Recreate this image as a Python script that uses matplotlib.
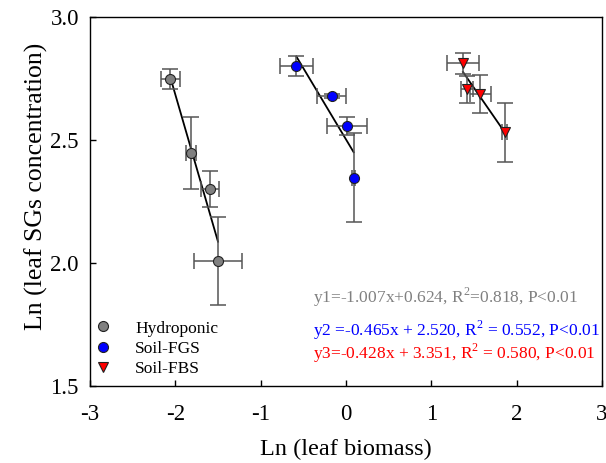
import numpy as np
import matplotlib
matplotlib.use("Agg")
import matplotlib.pyplot as plt

plt.rcParams['font.family'] = ['Liberation Serif', 'DejaVu Serif']
plt.rcParams['mathtext.fontset'] = 'custom'
plt.rcParams['mathtext.rm'] = 'Liberation Serif'

# ---- data ----
groups = ["Hydroponic", "Soil-FGS", "Soil-FBS"]

hydro_x = [-2.059, -1.816, -1.594, -1.500]
hydro_y = [2.748, 2.447, 2.302, 2.009]
hydro_xerr = [0.11, 0.06, 0.11, 0.28]
hydro_yerr = [0.040, 0.148, 0.073, 0.180]

fgs_x = [-0.582, -0.168, 0.012, 0.090]
fgs_y = [2.802, 2.679, 2.557, 2.347]
fgs_xerr = [0.19, 0.17, 0.23, 0.02]
fgs_yerr = [0.041, 0.010, 0.037, 0.182]

fbs_x = [1.371, 1.418, 1.574, 1.860]
fbs_y = [2.812, 2.706, 2.686, 2.531]
fbs_xerr = [0.19, 0.074, 0.12, 0.03]
fbs_yerr = [0.042, 0.056, 0.077, 0.120]

equations = ["y1=-1.007x+0.624, R$^2$=0.818, P<0.01",
             "y2 =-0.465x + 2.520, R$^2$ = 0.552, P<0.01",
             "y3=-0.428x + 3.351, R$^2$ = 0.580, P<0.01"]
eq_colors = ["#808080", "#0000ff", "#ff0000"]
eq_ypos = [0.241, 0.152, 0.089]

xticks = [-3, -2, -1, 0, 1, 2, 3]
yticks = [1.5, 2.0, 2.5, 3.0]

# ---- plot ----
fig = plt.figure(figsize=(6.06, 4.63), dpi=100)
ax = fig.add_axes([0.1485, 0.1663, 0.8449, 0.797])

series = [
    (hydro_x, hydro_y, hydro_xerr, hydro_yerr, 'o', '#808080'),
    (fgs_x, fgs_y, fgs_xerr, fgs_yerr, 'o', '#0000ff'),
    (fbs_x, fbs_y, fbs_xerr, fbs_yerr, 'v', '#ff0000'),
]

for (x, y, xe, ye, m, c), name in zip(series, groups):
    x = np.array(x); y = np.array(y)
    k, b = np.polyfit(x, y, 1)
    xx = np.array([x.min(), x.max()])
    ax.plot(xx, k * xx + b, color='black', lw=1.3, zorder=2)
    ax.errorbar(x, y, xerr=xe, yerr=ye, fmt='none', ecolor='#555555',
                elinewidth=1.1, capsize=5.5, capthick=1.1, zorder=3)
    ax.plot(x, y, linestyle='none', marker=m, markersize=7.2 if m == 'o' else 7.8,
            markerfacecolor=c, markeredgecolor='#222222', markeredgewidth=0.8,
            label=name, zorder=4)

ax.set_xlim(-3, 3)
ax.set_ylim(1.5, 3.0)
ax.set_xticks(xticks)
ax.set_yticks(yticks)
ax.set_xticklabels([f"{t:d}" for t in xticks])
ax.set_yticklabels([f"{t:.1f}" for t in yticks])
ax.tick_params(axis='both', direction='in', length=4, width=1, labelsize=16.5,
               top=False, right=False)
ax.tick_params(axis='x', pad=13)
ax.tick_params(axis='y', pad=8)
for s in ax.spines.values():
    s.set_linewidth(1.0)

ax.set_xlabel("Ln (leaf biomass)", fontsize=17.5, labelpad=10)
ax.set_ylabel("Ln (leaf SGs concentration)", fontsize=18.5, labelpad=1.5)
ax.yaxis.label.set_y(0.54)

for t, c, yp in zip(equations, eq_colors, eq_ypos):
    ax.text(0.436, yp, t, color=c, fontsize=12.5,
            transform=ax.transAxes, va='center', ha='left')

ax.legend(loc='lower left', bbox_to_anchor=(0.0, 0.024), frameon=False,
          fontsize=12.5, handletextpad=1.1, labelspacing=0.24,
          handlelength=1.5, borderpad=0, borderaxespad=0)

fig.savefig("out.png", dpi=100)
